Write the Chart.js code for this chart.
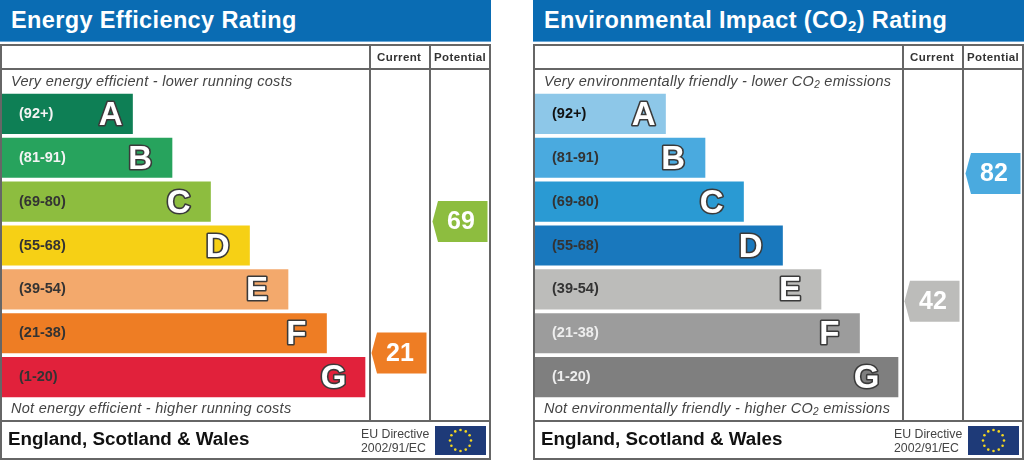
<!DOCTYPE html>
<html>
<head>
<meta charset="utf-8">
<title>Energy ratings</title>
<script src="https://cdn.jsdelivr.net/npm/chart.js@4"></script>
<style>
  html, body { margin: 0; padding: 0; background: #fff; width: 1024px; height: 460px; overflow: hidden; }
  body { font-family: "Liberation Sans", Arial, sans-serif; }
  .panel { position: absolute; top: 0; width: 491px; height: 460px; }
  #panelEnergy { left: 0; }
  #panelCo2 { left: 533px; }
  .panel canvas { position: absolute; left: 0; top: 0; }
  .panel div { position: absolute; white-space: nowrap; }
  .bar-title { left: 0; top: 0; width: 491px; height: 42px; background: #0a6cb3; border-bottom: 1px solid #6aa7d6; box-sizing: border-box; }
  .title { left: 11px; top: 6px; color: #fff; font-weight: bold; font-size: 23.5px; line-height: 28px; letter-spacing: 0.37px; }
  .title sub { font-size: 15px; line-height: 0; vertical-align: -3px; }
  .frame { left: 0; top: 44px; width: 487px; height: 412px; border: 2px solid #666; }
  .hline { left: 0; width: 491px; height: 2px; background: #666; }
  .vline { width: 2px; background: #666; }
  .col-head { top: 51px; font-size: 11.5px; line-height: 13px; font-weight: bold; color: #333; letter-spacing: 0.4px; }
  .note { left: 11px; font-style: italic; font-size: 14.5px; line-height: 17px; color: #444; letter-spacing: 0.28px; }
  .note sub { font-size: 10px; line-height: 0; vertical-align: -2px; }
  .footer { left: 8px; top: 428px; font-size: 18.8px; line-height: 22px; font-weight: bold; color: #111; }
  .eu { left: 361px; font-size: 12.3px; line-height: 14px; color: #444; }
</style>
</head>
<body>

<div class="panel" id="panelEnergy">
  <div class="bar-title"></div>
  <div class="title">Energy Efficiency Rating</div>
  <div class="frame"></div>
  <div class="hline" style="top:68px"></div>
  <div class="hline" style="top:420px"></div>
  <div class="vline" style="left:369px;top:44px;height:376px"></div>
  <div class="vline" style="left:429px;top:44px;height:376px"></div>
  <canvas id="energy" width="491" height="460"></canvas>
  <div class="col-head" style="left:377px">Current</div>
  <div class="col-head" style="left:434px">Potential</div>
  <div class="note" style="top:73px">Very energy efficient - lower running costs</div>
  <div class="note" style="top:400px">Not energy efficient - higher running costs</div>
  <div class="footer">England, Scotland &amp; Wales</div>
  <div class="eu" style="top:427px">EU Directive</div>
  <div class="eu" style="top:441px">2002/91/EC</div>
</div>

<div class="panel" id="panelCo2">
  <div class="bar-title"></div>
  <div class="title">Environmental Impact (CO<sub>2</sub>) Rating</div>
  <div class="frame"></div>
  <div class="hline" style="top:68px"></div>
  <div class="hline" style="top:420px"></div>
  <div class="vline" style="left:369px;top:44px;height:376px"></div>
  <div class="vline" style="left:429px;top:44px;height:376px"></div>
  <canvas id="co2" width="491" height="460"></canvas>
  <div class="col-head" style="left:377px">Current</div>
  <div class="col-head" style="left:434px">Potential</div>
  <div class="note" style="top:73px">Very environmentally friendly - lower CO<sub>2</sub> emissions</div>
  <div class="note" style="top:400px">Not environmentally friendly - higher CO<sub>2</sub> emissions</div>
  <div class="footer">England, Scotland &amp; Wales</div>
  <div class="eu" style="top:427px">EU Directive</div>
  <div class="eu" style="top:441px">2002/91/EC</div>
</div>

<script>
var bandLabels = ["(92+)", "(81-91)", "(69-80)", "(55-68)", "(39-54)", "(21-38)", "(1-20)"];
var bandLetters = ["A", "B", "C", "D", "E", "F", "G"];
var bandHighs = [100, 91, 80, 68, 54, 38, 20];
var bandLows = [92, 81, 69, 55, 39, 21, 1];
var barLengths = [130.5, 170, 208.5, 247.5, 286, 324.5, 363];

var energyColors = ["#0e7f55", "#27a35d", "#8dbd3f", "#f6d015", "#f3a96c", "#ee7d24", "#e1213b"];
var energyLabelColors = ["#f4f4f4", "#f4f4f4", "#333", "#333", "#333", "#333", "#333"];
var energyRatings = [21, 69];

var co2Colors = ["#8dc7e8", "#4aaadf", "#2a9ad3", "#1978bd", "#bcbcba", "#9c9c9c", "#7f7f7f"];
var co2LabelColors = ["#111", "#333", "#333", "#333", "#333", "#eee", "#eee"];
var co2Ratings = [42, 82];

// centre of the current and potential columns, same units as barLengths
var columnCentres = [397, 458];

function bandOf(rating) {
  for (let i = 0; i < bandLows.length; i++) {
    if (rating >= bandLows[i] && rating <= bandHighs[i]) return i;
  }
  return bandLows.length - 1;
}

var extras = {
  id: "extras",
  afterDatasetsDraw(chart, args, opts) {
    const ctx = chart.ctx;
    const bars = chart.getDatasetMeta(0).data;
    ctx.save();

    // band letters
    ctx.font = "bold 33px 'Liberation Sans'";
    ctx.textAlign = "right";
    ctx.textBaseline = "middle";
    ctx.lineJoin = "round";
    bars.forEach((bar, i) => {
      const gap = i === 0 ? 10 : (i === 6 ? 18.5 : 20);
      ctx.lineWidth = 3.2;
      ctx.strokeStyle = "#3a3a3a";
      ctx.strokeText(bandLetters[i], bar.x - gap, bar.y + 2);
      ctx.fillStyle = "#fff";
      ctx.fillText(bandLetters[i], bar.x - gap, bar.y + 2);
    });

    // rating arrows, placed inside their band by value
    opts.ratings.forEach((rating, c) => {
      const b = bandOf(rating);
      const frac = (bandHighs[b] - rating) / (bandHighs[b] - bandLows[b]);
      const y = bars[b].y - bars[b].height / 2 + frac * bars[b].height;
      const x = chart.scales.x.getPixelForValue(columnCentres[c]);
      ctx.fillStyle = opts.colors[b];
      ctx.beginPath();
      ctx.moveTo(x - 27.5, y);
      ctx.lineTo(x - 22, y - 20.5);
      ctx.lineTo(x + 27.5, y - 20.5);
      ctx.lineTo(x + 27.5, y + 20.5);
      ctx.lineTo(x - 22, y + 20.5);
      ctx.closePath();
      ctx.fill();
      ctx.fillStyle = "#fff";
      ctx.font = "bold 25px 'Liberation Sans'";
      ctx.textAlign = "center";
      ctx.fillText(String(rating), x + 1, y + 1);
    });

    // EU flag
    ctx.fillStyle = "#1e3a78";
    ctx.fillRect(435, 426, 51, 29);
    ctx.fillStyle = "#f5d81f";
    for (let i = 0; i < 12; i++) {
      const a = i * Math.PI / 6;
      ctx.beginPath();
      ctx.arc(460.5 + Math.cos(a) * 10.5, 440.5 + Math.sin(a) * 10.5, 1.3, 0, Math.PI * 2);
      ctx.fill();
    }
    ctx.restore();
  }
};

function ratingChart(id, colors, labelColors, ratings) {
  return new Chart(id, {
    type: "bar",
    data: {
      labels: bandLabels,
      datasets: [{
        data: barLengths,
        backgroundColor: colors,
        borderWidth: 0,
        barThickness: 39.5
      }]
    },
    options: {
      indexAxis: "y",
      responsive: false,
      animation: false,
      layout: { padding: { left: 2, right: 1, top: 92, bottom: 61 } },
      scales: {
        x: { display: false, min: 0, max: 488 },
        y: {
          border: { display: false },
          grid: { display: false, drawTicks: false },
          afterFit(axis) { axis.width = 0; },
          ticks: {
            mirror: true,
            z: 1,
            padding: 17,
            color: (c) => labelColors[c.index],
            font: { family: "Liberation Sans", size: 14.5, weight: "bold" }
          }
        }
      },
      plugins: {
        legend: { display: false },
        tooltip: { enabled: false },
        extras: { ratings: ratings, colors: colors }
      }
    },
    plugins: [extras]
  });
}

ratingChart("energy", energyColors, energyLabelColors, energyRatings);
ratingChart("co2", co2Colors, co2LabelColors, co2Ratings);
</script>
</body>
</html>
